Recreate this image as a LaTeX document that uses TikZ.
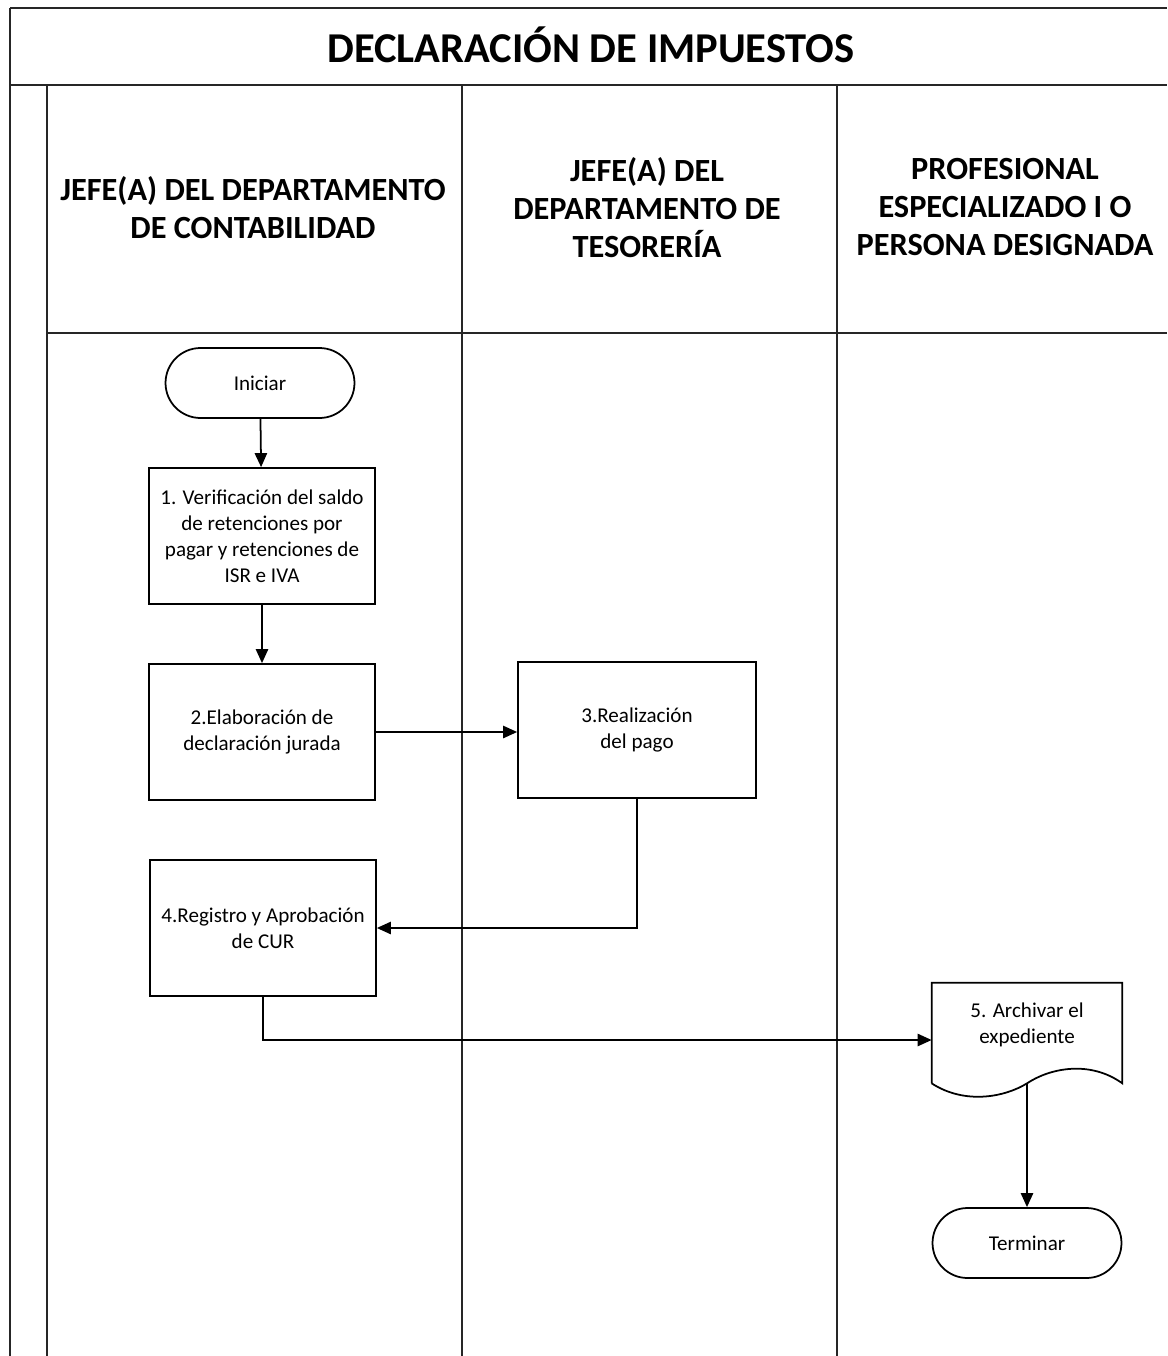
\documentclass[tikz,border=0pt]{standalone}
\usepackage{fontspec}
\setmainfont{Carlito}
\usetikzlibrary{arrows.meta}

\tikzset{
  lane/.style={line width=1.6pt, black!85},
  hdr/.style={align=center, font=\bfseries\fontsize{18.4}{21.6}\selectfont},
  txt/.style={align=center, font=\fontsize{12}{14.8}\selectfont},
  proc/.style={txt, draw, line width=1pt, minimum width=4.52cm, minimum height=2.72cm},
  term/.style={txt, draw, line width=1pt, rounded corners=0.7cm, minimum width=3.78cm, minimum height=1.4cm},
  flow/.style={line width=1pt, -{Triangle[length=8pt,width=7pt]}},
}

\begin{document}
\begin{tikzpicture}[x=0.02cm,y=-0.02cm]
  \useasboundingbox (0,0) rectangle (1167,1356);
  % frame and lanes
  \draw[lane] (10,8) -- (1167,8);
  \draw[lane] (10,8) -- (10,1356);
  \draw[lane] (10,85) -- (1167,85);
  \draw[lane] (47,85) -- (47,1356);
  \draw[lane] (462,85) -- (462,1356);
  \draw[lane] (837,85) -- (837,1356);
  \draw[lane] (47,333) -- (1167,333);
  \node[font=\bfseries\fontsize{24.2}{28}\selectfont] (title) at (591,45) {DECLARACIÓN DE IMPUESTOS};
  \node[hdr] (h1) at (253,208) {JEFE(A) DEL DEPARTAMENTO\\DE CONTABILIDAD};
  \node[hdr] (h2) at (647,208) {JEFE(A) DEL\\DEPARTAMENTO DE\\TESORERÍA};
  \node[hdr] (h3) at (1005,207) {PROFESIONAL\\ESPECIALIZADO I O\\PERSONA DESIGNADA};
  % steps
  \node[term] (start) at (260,383) {Iniciar};
  \node[proc] (b1) at (262,536) {1. Verificación del saldo\\de retenciones por\\pagar y retenciones de\\ISR e IVA};
  \node[proc] (b2) at (262,732) {2.Elaboración de\\declaración jurada};
  \node[proc, minimum width=4.76cm] (b3) at (637,730) {3.Realización\\del pago};
  \node[proc] (b4) at (263,928) {4.Registro y Aprobación\\de CUR};
  \node[minimum width=3.8cm, minimum height=2cm] (doc) at (1027,1033) {};
  \draw[line width=1pt] (doc.south west) -- (doc.north west) -- (doc.north east) -- (doc.south east)
    .. controls (1090,1060) and (1050,1068) .. (doc.south)
    .. controls (1005,1097) and (965,1105) .. (doc.south west);
  \node[txt] (doctext) at ([yshift=0.16cm]doc.center) {5. Archivar el\\expediente};
  \node[term] (fin) at (1027,1243) {Terminar};
  % connectors
  \draw[flow] (start) -- (b1);
  \draw[flow] (b1) -- (b2);
  \draw[flow] (b2.east) -- (b2.east -| b3.west);
  \draw[flow] (b3.south) |- (b4.east);
  \draw[flow] (b4.south) |- ([yshift=-0.14cm]doc.west);
  \draw[flow] (doc.south) -- (fin.north);
\end{tikzpicture}
\end{document}
